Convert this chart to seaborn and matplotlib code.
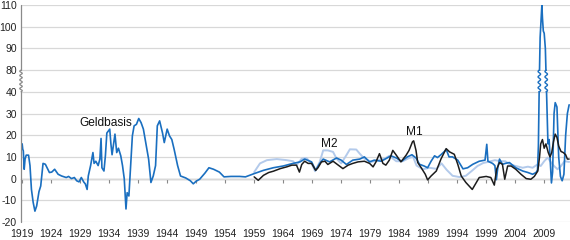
import numpy as np
import pandas as pd
import matplotlib
matplotlib.use("Agg")
import matplotlib.pyplot as plt
import seaborn as sns

# ---------------- data (growth rates, % y/y) ----------------
geld_years = [1919.0, 1919.1, 1919.2, 1919.35, 1919.5, 1919.7, 1920.1, 1920.35, 1920.6, 1920.9,
              1921.2, 1921.5, 1921.9, 1922.2, 1922.6, 1923.0, 1923.3, 1923.7, 1924.1, 1924.6,
              1925.2, 1925.8, 1926.6, 1927.0, 1927.5, 1928.0, 1928.4, 1928.8, 1929.2, 1929.6,
              1929.9, 1930.2, 1930.4, 1930.8, 1931.2, 1931.4, 1931.7, 1932.1, 1932.4, 1932.6,
              1932.75, 1933.1, 1933.35, 1933.6, 1934.1, 1934.3, 1934.5, 1935.0, 1935.3, 1935.6,
              1936.0, 1936.3, 1936.6, 1936.9, 1937.1, 1937.4, 1937.7, 1938.0, 1938.3, 1938.7,
              1939.1, 1939.5, 1939.9, 1940.3, 1940.8, 1941.2, 1941.6, 1942.0, 1942.3, 1942.7,
              1943.2, 1943.5, 1944.0, 1944.4, 1944.8, 1945.2, 1945.8, 1946.3, 1947.2, 1948.0,
              1948.5, 1949.0, 1949.6, 1950.5, 1951.2, 1952.0, 1953.0, 1953.8, 1955.0, 1956.5,
              1957.5, 1958.5, 1959.0, 1960.6, 1962.3, 1964.0, 1965.7, 1966.9, 1967.7, 1968.9,
              1969.6, 1970.3, 1970.9, 1972.0, 1973.2, 1974.0, 1974.9, 1976.0, 1977.2, 1978.0,
              1978.9, 1979.7, 1980.9, 1981.7, 1982.6, 1983.5, 1984.4, 1985.4, 1986.2, 1986.9,
              1987.5, 1988.3, 1988.9, 1989.5, 1990.1, 1990.6, 1991.2, 1991.8, 1992.1, 1992.6,
              1993.2, 1994.1, 1995.0, 1995.8, 1996.7, 1997.8, 1998.8, 1999.1, 1999.3, 2000.1,
              2000.5, 2000.75, 2001.0, 2001.3, 2001.8, 2002.3, 2003.0, 2004.1, 2005.3, 2006.2,
              2007.0, 2007.6, 2007.85, 2008.0, 2008.15, 2008.3, 2008.45, 2008.6, 2008.7, 2008.85,
              2009.0, 2009.2, 2009.35, 2009.5, 2009.65, 2009.85, 2010.05, 2010.25, 2010.45, 2010.7,
              2010.9, 2011.2, 2011.5, 2011.8, 2012.1, 2012.4, 2012.7, 2013.0, 2013.3]
geld_values = [16, 13.5, 12.8, 4.3, 9, 10.8, 10.8, 6, -5, -11,
               -15, -12.6, -6, -3.4, 7, 6.6, 5, 2.8, 3, 4.3,
               2, 1.2, 0.5, 1, 0, 0.5, -1, -1.5, 0.5, -1.5,
               -2.5, -5, 1.2, 6, 12, 7, 8, 6, 9, 18.5,
               5, 3.5, 10.5, 21, 22.8, 16, 11, 20.5, 12, 14,
               10.5, 6, 0, -14, -6.5, -8, 6, 19.7, 24.3, 25,
               27.7, 25.8, 22.8, 16.6, 9, -1.8, 1.2, 6, 24.3, 26.6,
               21, 16.6, 22.8, 19.7, 18, 13.5, 6, 1.2, 0.3, -1,
               -2.4, -1.2, -0.3, 2.5, 5, 4.3, 3, 0.8, 1, 1,
               0.8, 1.8, 2.3, 3.8, 5, 5.8, 7, 7.7, 9, 7.7,
               3.8, 7, 9, 7.7, 9.5, 8.5, 6.5, 8.5, 9, 10,
               7.7, 8.5, 8, 9.2, 10.5, 9.5, 8, 10, 11, 9.5,
               6.6, 5.8, 5, 8, 10.5, 9.7, 11, 12.5, 13.5, 10,
               10, 8.5, 4.5, 5, 6.6, 8, 8.5, 15.8, 8, 7,
               6, -0.5, 5, 9, 6.6, 7, 7.4, 5, 3.5, 2.8,
               2, 2.8, 4, 15, 55, 95, 103, 110, 104, 98,
               97, 90, 60, 30, 16, 18, 8, -2, 3, 30,
               35, 33, 10, 1, -1, 2, 20, 30, 34]

m1_years = [1959.0, 1959.7, 1960.6, 1961.5, 1962.3, 1963.5, 1964.6, 1965.5, 1966.3, 1966.8,
            1967.2, 1967.7, 1968.3, 1968.9, 1969.6, 1970.0, 1970.6, 1971.2, 1971.7, 1972.6,
            1973.5, 1974.3, 1975.2, 1976.0, 1976.9, 1978.0, 1978.9, 1979.5, 1980.0, 1980.6,
            1981.2, 1981.7, 1982.3, 1982.9, 1983.5, 1984.3, 1985.2, 1985.7, 1986.3, 1986.5,
            1986.9, 1987.2, 1987.8, 1988.5, 1988.9, 1989.5, 1990.4, 1991.2, 1992.1, 1992.7,
            1993.5, 1994.1, 1994.7, 1995.5, 1996.6, 1997.3, 1997.8, 1999.0, 1999.8, 2000.4,
            2000.8, 2001.3, 2001.8, 2002.2, 2002.7, 2003.3, 2004.1, 2005.0, 2005.9, 2006.7,
            2007.3, 2007.9, 2008.2, 2008.4, 2008.7, 2009.0, 2009.3, 2009.7, 2010.0, 2010.3,
            2010.6, 2010.9, 2011.2, 2011.5, 2011.9, 2012.3, 2012.7, 2013.0, 2013.3]
m1_values = [0.8, -0.8, 1.5, 2.8, 3.4, 4.6, 5.4, 6.2, 6.2, 3,
             6.5, 8, 7, 7, 3.8, 5, 7.7, 8, 6.5, 8,
             6.2, 4.6, 6.2, 7, 7.7, 8, 7, 5.4, 7.7, 11.5,
             7, 6.2, 8.5, 13, 10.8, 7.7, 10.8, 13, 17, 17.4,
             13, 7.4, 5, 2, -0.6, 1.2, 3.5, 9, 13.8, 12.3,
             11.2, 6.6, 1.2, -1.8, -5, -1.8, 0.5, 1, 0.5, -3,
             4.3, 7.4, 6.6, -0.3, 5.8, 5.8, 4.3, 2, 0, -0.3,
             1, 3.5, 10, 16, 18, 14, 16, 12, 10, 12,
             17, 20.5, 19, 15, 12.5, 12, 11, 9, 9]

m2_years = [1959.0, 1960.0, 1961.2, 1962.9, 1964.6, 1965.7, 1966.3, 1967.2, 1968.0, 1968.9,
            1969.5, 1970.3, 1970.9, 1971.7, 1972.6, 1973.2, 1974.0, 1974.9, 1975.5, 1976.6,
            1977.2, 1978.0, 1979.2, 1980.3, 1981.5, 1982.3, 1983.5, 1984.6, 1985.7, 1986.4,
            1987.0, 1988.1, 1989.2, 1990.4, 1991.3, 1992.2, 1993.2, 1994.4, 1995.5, 1996.5,
            1997.5, 1998.5, 1999.5, 2000.5, 2001.5, 2002.3, 2003.0, 2004.1, 2005.3, 2006.2,
            2007.0, 2007.9, 2008.4, 2009.0, 2009.6, 2010.2, 2010.7, 2011.3, 2011.9, 2012.5,
            2013.3]
m2_values = [3, 7, 8.5, 9, 8.5, 8, 6.2, 9.2, 9.5, 7,
             3.4, 7.7, 13, 13, 12.3, 9.2, 7, 10.8, 13.5, 13.4,
             11.5, 9.2, 7.7, 8.5, 9.2, 10.5, 8, 8, 9.5, 10,
             6, 4.3, 5, 4.5, 7, 4, 1.3, 0.7, 1.3, 3.5,
             5.8, 7.2, 7.8, 8.5, 8, 8, 6.6, 5.8, 5, 5.5,
             5, 6.6, 5.8, 8, 9.7, 7.4, 5.8, 4.3, 5.8, 8,
             7.7]

ytick_values = [-20, -10, 0, 10, 20, 30, 40, 80, 90, 100, 110]
xtick_years = list(range(1919, 2010, 5))
series_names = ["Geldbasis", "M2", "M1"]


# broken axis: 40..80 compressed into a single step
def brk(v):
    v = np.asarray(v, dtype=float)
    return np.where(v <= 40, v, np.where(v < 80, 40 + (v - 40) / 4.0, v - 30))


def crossing(x, y, level, rising=True):
    x = np.asarray(x, float); y = np.asarray(y, float)
    if rising:
        for i in range(len(y) - 1):
            if y[i] < level <= y[i + 1]:
                return x[i] + (level - y[i]) / (y[i + 1] - y[i]) * (x[i + 1] - x[i])
    else:
        for i in range(len(y) - 1, 0, -1):
            if y[i - 1] >= level > y[i]:
                return x[i - 1] + (y[i - 1] - level) / (y[i - 1] - y[i]) * (x[i] - x[i - 1])
    return None


df_g = pd.DataFrame({"year": geld_years, "val": brk(geld_values)})
df_m1 = pd.DataFrame({"year": m1_years, "val": brk(m1_values)})
df_m2 = pd.DataFrame({"year": m2_years, "val": brk(m2_values)})

sns.set_style("white")
plt.rcParams["font.family"] = ["Liberation Sans", "DejaVu Sans"]

BLUE = "#1a6fc0"
LIGHT = "#b3caeb"
BLACK = "#1c1c1c"
GRID = "#d8d8d8"

fig = plt.figure(figsize=(5.7, 2.4), dpi=100)
ax = fig.add_axes([21 / 570, 18 / 240, 549 / 570, 217 / 240])

XMIN, XMAX = 1918.8, 2013.45
ax.set_xlim(XMIN, XMAX)
ax.set_ylim(-20, 80)

sns.lineplot(data=df_m2, x="year", y="val", ax=ax, color=LIGHT, lw=1.4,
             sort=False, estimator=None, zorder=2)
sns.lineplot(data=df_g, x="year", y="val", ax=ax, color=BLUE, lw=1.2,
             sort=False, estimator=None, zorder=3)
sns.lineplot(data=df_m1, x="year", y="val", ax=ax, color=BLACK, lw=1.1,
             sort=False, estimator=None, zorder=4)

# y axis
ax.set_yticks(brk(ytick_values))
ax.set_yticklabels([str(v) for v in ytick_values])
ax.grid(axis="y", color=GRID, lw=0.9)
ax.grid(axis="x", visible=False)
ax.tick_params(axis="y", length=0, pad=3, labelsize=7.5, labelcolor="#222")
for s in ["left", "right", "top", "bottom"]:
    ax.spines[s].set_visible(False)

# x axis
ax.set_xticks(xtick_years)
ax.set_xticklabels([str(y) for y in xtick_years])
ax.tick_params(axis="x", direction="out", length=3, width=0.8, color="#999",
               pad=2, labelsize=7.5, labelcolor="#222")
ax.set_xlabel("")
ax.set_ylabel("")

# zero line with ticks
sec = ax.secondary_xaxis((0 - (-20)) / 100.0)
sec.set_alignment("bottom")
sec.set_xticks(xtick_years)
sec.set_xticklabels([])
sec.tick_params(direction="out", length=3, width=0.8, color="#888")
for s in sec.spines.values():
    s.set_visible(False)
sec.spines["bottom"].set_visible(True)
sec.spines["bottom"].set_color("#808080")
sec.spines["bottom"].set_linewidth(0.9)

# left spine with break squiggle
SPC = "#8a8a8a"
ax.plot([XMIN, XMIN], [-20, 40], color=SPC, lw=0.9, clip_on=False, zorder=5)
ax.plot([XMIN, XMIN], [50, 80], color=SPC, lw=0.9, clip_on=False, zorder=5)
yy = np.linspace(40, 50, 200)
amp = 0.22
ax.plot(XMIN + amp * np.sin((yy - 40) / 10 * 2 * np.pi * 5), yy, color=SPC, lw=0.9,
        clip_on=False, zorder=5)

# break squiggle on the Geldbasis spike
gd = brk(geld_values)
xr = 0.5 * (crossing(geld_years, gd, 40, True) + crossing(geld_years, gd, 50, True))
xf = 0.5 * (crossing(geld_years, gd, 40, False) + crossing(geld_years, gd, 50, False))
ax.fill_between([xr - 0.45, xf + 0.45], 40.5, 49.5, color="white", zorder=6, lw=0)
for xc in (xr, xf):
    ax.plot(xc + amp * np.sin((yy - 40) / 10 * 2 * np.pi * 4), yy, color=BLUE, lw=1.0,
            zorder=7)

# series labels
ax.text(1928.8, 24.2, series_names[0], fontsize=8.6, color="#111", va="baseline", ha="left")
ax.text(1970.6, 14.5, series_names[1], fontsize=8.6, color="#111", va="baseline", ha="left")
ax.text(1985.2, 20.3, series_names[2], fontsize=8.6, color="#111", va="baseline", ha="left")

fig.savefig("out.png", dpi=100)
